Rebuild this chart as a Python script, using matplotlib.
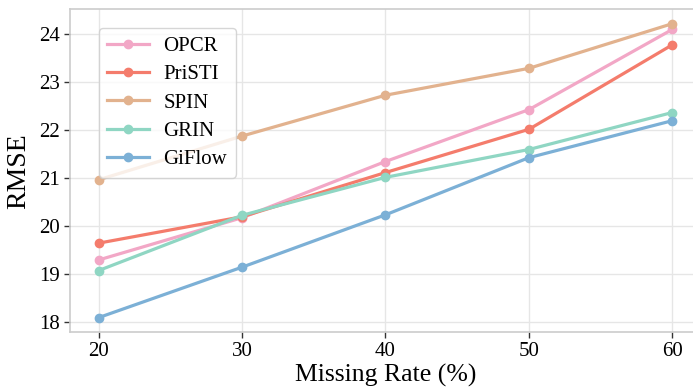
"""RMSE vs missing rate for the imputation methods."""
import matplotlib
matplotlib.use("Agg")
import matplotlib.pyplot as plt

rates = [20, 30, 40, 50, 60]
methods = ["OPCR", "PriSTI", "SPIN", "GRIN", "GiFlow"]
opcr = [19.30, 20.18, 21.35, 22.43, 24.10]
pristi = [19.65, 20.20, 21.12, 22.02, 23.78]
spin = [20.97, 21.88, 22.73, 23.29, 24.22]
grin = [19.08, 20.23, 21.02, 21.60, 22.37]
giflow = [18.10, 19.15, 20.24, 21.43, 22.20]
colors = ["#f2a7c6", "#f47c6c", "#e2b28e", "#8fd6c3", "#7cb0d6"]

plt.rcParams["font.family"] = ["Liberation Serif", "DejaVu Serif"]
fig = plt.figure(figsize=(6.93, 3.89), dpi=100)
ax = fig.add_axes([0.101, 0.1458, 0.9105, 0.8311])

for name, vals, c in zip(methods, [opcr, pristi, spin, grin, giflow], colors):
    ax.plot(rates, vals, color=c, lw=2.3, marker="o", ms=6, label=name)

ax.set_xticks(rates)
ax.set_yticks([18, 19, 20, 21, 22, 23, 24])
ax.grid(True, color="#e6e6e6", lw=1)
ax.set_axisbelow(True)
for s in ax.spines.values():
    s.set_color("#cccccc"); s.set_linewidth(1.2)
ax.tick_params(labelsize=15, length=4, width=1, color="#333333", pad=3)
ax.set_xlabel("Missing Rate (%)", fontsize=18.5, labelpad=2)
ax.set_ylabel("RMSE", fontsize=20, labelpad=6)

leg = ax.legend(loc="upper left", bbox_to_anchor=(0.046, 0.941), borderaxespad=0,
                fontsize=15, frameon=True, fancybox=True, edgecolor="#cccccc",
                handlelength=2.0, handletextpad=0.7, labelspacing=0.42)
leg.get_frame().set_linewidth(1)

fig.savefig("out.png", dpi=100)
